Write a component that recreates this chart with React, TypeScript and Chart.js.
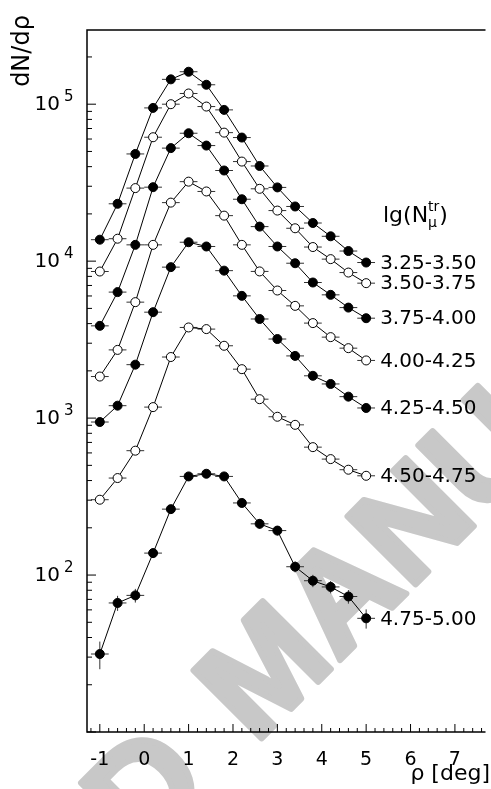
import React, { useEffect, useRef } from "react";
import { Chart, registerables } from "chart.js";
Chart.register(...registerables);

// bin centres, rho [deg]
const rho = [-1, -0.6, -0.2, 0.2, 0.6, 1.0, 1.4, 1.8, 2.2, 2.6, 3.0, 3.4, 3.8, 4.2, 4.6, 5.0];
const binHalfWidth = 0.2;

const s325 = [13700, 23200, 48200, 94700, 144000, 161000, 133000, 92000, 61300, 40400, 29500, 22300, 17500, 14400, 11600, 9800];
const s350 = [8590, 13900, 29200, 61600, 100000, 117000, 96600, 65900, 43100, 28900, 21000, 16200, 12300, 10300, 8460, 7240];
const s375 = [3870, 6350, 12700, 29600, 52500, 65300, 54500, 37800, 24800, 16600, 12400, 9700, 7310, 6100, 5060, 4330];
const s400 = [1840, 2720, 5480, 12700, 23600, 32100, 27800, 19500, 12700, 8600, 6500, 5190, 4030, 3280, 2790, 2330];
const s425 = [944, 1200, 2190, 4730, 9160, 13200, 12400, 8700, 6010, 4280, 3190, 2490, 1860, 1650, 1370, 1160];
const s450 = [302, 415, 620, 1175, 2450, 3780, 3690, 2890, 2050, 1320, 1020, 906, 653, 548, 469, 429];
const s475 = [31.4, 66.4, 74.2, 138, 263, 425, 442, 425, 288, 212, 192, 113, 92, 84, 73, 53];

// relative vertical errors (only visible for the lowest bins)
const err450 = [0.04, 0.03, 0.03, 0.02, 0.02, 0.02, 0.02, 0.02, 0.02, 0.02, 0.03, 0.03, 0.03, 0.03, 0.03, 0.03];
const err475 = [0.2, 0.11, 0.1, 0.07, 0.06, 0.05, 0.05, 0.05, 0.06, 0.07, 0.07, 0.08, 0.09, 0.09, 0.1, 0.14];

const seriesLabels = ["3.25-3.50", "3.50-3.75", "3.75-4.00", "4.00-4.25", "4.25-4.50", "4.50-4.75", "4.75-5.00"];
const seriesFilled = [true, false, true, false, true, false, true];

const xTickValues = [-1, 0, 1, 2, 3, 4, 5, 6, 7];
const xMinorStep = 0.2;
const yLabelDecades = [2, 3, 4, 5];
const yTickDecades = [1, 2, 3, 4, 5];

const FONT = "'DejaVu Sans', sans-serif";

export default function App() {
  const ref = useRef<HTMLCanvasElement | null>(null);

  useEffect(() => {
    const canvas = ref.current!;
    const allValues = [s325, s350, s375, s400, s425, s450, s475];
    const allErr = [null, null, null, null, null, err450, err475];

    const datasets = allValues.map((vals, k) => ({
      label: seriesLabels[k],
      data: rho.map((x, i) => ({ x, y: vals[i] })),
      borderColor: "#000",
      borderWidth: 1,
      pointRadius: 4.5,
      pointHoverRadius: 4.5,
      pointBackgroundColor: seriesFilled[k] ? "#000" : "#fff",
      pointBorderColor: "#000",
      pointBorderWidth: 1,
      tension: 0,
      fill: false,
    }));

    const decor = {
      id: "decor",
      beforeDatasetsDraw(chart: any) {
        const { ctx } = chart;
        const xs = chart.scales.x;
        const ys = chart.scales.y;
        // watermark
        ctx.save();
        ctx.translate(255, 745);
        ctx.rotate((-45 * Math.PI) / 180);
        ctx.font = "bold 140px 'Liberation Sans', sans-serif";
        ctx.fillStyle = "#c8c8c8";
        ctx.strokeStyle = "#c8c8c8";
        ctx.lineWidth = 6;
        ctx.lineJoin = "round";
        ctx.textBaseline = "alphabetic";
        ctx.textAlign = "right";
        ctx.fillText("ACCEPTED", -58, 0);
        ctx.strokeText("ACCEPTED", -58, 0);
        ctx.textAlign = "left";
        ctx.fillText("MANUSCRIPT", 0, 0);
        ctx.strokeText("MANUSCRIPT", 0, 0);
        ctx.restore();

        // error bars
        ctx.save();
        ctx.strokeStyle = "#333";
        ctx.lineWidth = 1;
        allValues.forEach((vals, k) => {
          vals.forEach((v, i) => {
            const px = xs.getPixelForValue(rho[i]);
            const py = ys.getPixelForValue(v);
            const x0 = xs.getPixelForValue(rho[i] - binHalfWidth);
            const x1 = xs.getPixelForValue(rho[i] + binHalfWidth);
            ctx.beginPath();
            ctx.moveTo(x0, py);
            ctx.lineTo(x1, py);
            const e = allErr[k];
            if (e) {
              const y0 = ys.getPixelForValue(v * (1 + e[i]));
              const y1 = ys.getPixelForValue(v * (1 - e[i]));
              ctx.moveTo(px, y0);
              ctx.lineTo(px, y1);
            }
            ctx.stroke();
          });
        });
        ctx.restore();
      },
      afterDraw(chart: any) {
        const { ctx, chartArea } = chart;
        const xs = chart.scales.x;
        const ys = chart.scales.y;
        const { left, right, top, bottom } = chartArea;
        ctx.save();
        ctx.strokeStyle = "#000";
        ctx.lineWidth = 1.5;
        ctx.beginPath();
        ctx.moveTo(right, top);
        ctx.lineTo(left, top);
        ctx.lineTo(left, bottom);
        ctx.lineTo(right, bottom);
        ctx.stroke();

        // y ticks
        ctx.lineWidth = 1;
        yTickDecades.forEach((d) => {
          for (let m = 1; m <= 9; m++) {
            const v = m * Math.pow(10, d);
            if (v < ys.min || v > ys.max) continue;
            const y = ys.getPixelForValue(v);
            const len = m === 1 ? 9 : 5;
            ctx.beginPath();
            ctx.moveTo(left, y);
            ctx.lineTo(left + len, y);
            ctx.stroke();
          }
        });
        // x ticks
        const nMinor = Math.round((xs.max - xs.min) / xMinorStep) + 2;
        const start = Math.ceil(xs.min / xMinorStep) * xMinorStep;
        for (let k = 0; k < nMinor; k++) {
          const v = start + k * xMinorStep;
          if (v > xs.max) break;
          const isMajor = xTickValues.some((t) => Math.abs(t - v) < 1e-6);
          const x = xs.getPixelForValue(v);
          ctx.beginPath();
          ctx.moveTo(x, bottom);
          ctx.lineTo(x, bottom - (isMajor ? 8 : 4));
          ctx.stroke();
        }

        ctx.fillStyle = "#000";
        // x labels
        ctx.font = `19px ${FONT}`;
        ctx.textAlign = "center";
        ctx.textBaseline = "alphabetic";
        xTickValues.forEach((t) => {
          ctx.fillText(String(t), xs.getPixelForValue(t), 765);
        });
        // y labels
        yLabelDecades.forEach((d) => {
          const y = ys.getPixelForValue(Math.pow(10, d));
          ctx.font = `20px ${FONT}`;
          ctx.textAlign = "right";
          ctx.textBaseline = "middle";
          ctx.fillText("10", 60, y + 1);
          ctx.font = `15px ${FONT}`;
          ctx.textAlign = "left";
          ctx.fillText(String(d), 64, y - 7);
        });

        // series labels
        ctx.font = `20px ${FONT}`;
        ctx.textAlign = "left";
        ctx.textBaseline = "middle";
        allValues.forEach((vals, k) => {
          const n = vals.length - 1;
          const x = xs.getPixelForValue(rho[n]);
          const y = ys.getPixelForValue(vals[n]);
          ctx.fillText(seriesLabels[k], x + 14, y + 1);
        });

        // legend title lg(N_mu^tr)
        ctx.textBaseline = "alphabetic";
        ctx.font = `22px ${FONT}`;
        let tx = 383;
        const ty = 222;
        ctx.fillText("lg(N", tx, ty);
        tx += ctx.measureText("lg(N").width;
        ctx.font = `14px ${FONT}`;
        const wtr = ctx.measureText("tr").width;
        ctx.fillText("tr", tx, ty - 11);
        const wmu = ctx.measureText("μ").width;
        ctx.fillText("μ", tx, ty + 5);
        tx += Math.max(wtr, wmu);
        ctx.font = `22px ${FONT}`;
        ctx.fillText(")", tx, ty);

        // axis titles
        ctx.font = `22px ${FONT}`;
        ctx.textAlign = "right";
        ctx.fillText("ρ [deg]", 490, 780);

        ctx.save();
        ctx.translate(23, 51);
        ctx.rotate(-Math.PI / 2);
        ctx.font = `24px ${FONT}`;
        ctx.textAlign = "center";
        ctx.textBaseline = "middle";
        ctx.fillText("dN/dρ", 0, 0);
        ctx.restore();

        ctx.restore();
      },
    };

    const chart = new Chart(canvas, {
      type: "line",
      data: { datasets: datasets as any },
      options: {
        responsive: false,
        animation: false,
        events: [],
        layout: { padding: { left: 87, top: 30, right: 0, bottom: 57 } },
        scales: {
          x: { type: "linear", min: -1.289, max: 7.689, display: false },
          y: { type: "logarithmic", min: 10, max: 2.97e5, display: false },
        },
        plugins: { legend: { display: false }, tooltip: { enabled: false } },
      },
      plugins: [decor],
    });
    return () => chart.destroy();
  }, []);

  return (
    <div style={{ position: "fixed", left: 0, top: 0, width: 491, height: 789, background: "#fff" }}>
      <canvas ref={ref} width={491} height={789} style={{ width: 491, height: 789, display: "block" }} />
    </div>
  );
}
